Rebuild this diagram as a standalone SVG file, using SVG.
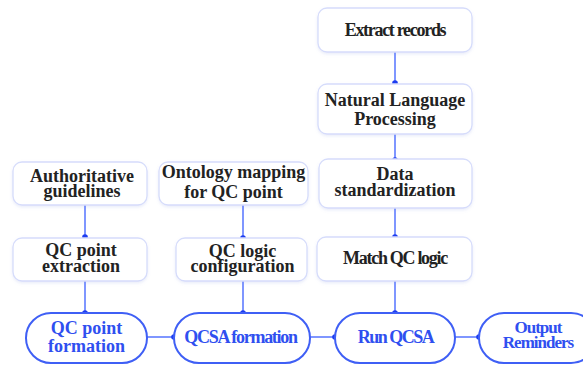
<svg xmlns="http://www.w3.org/2000/svg" width="583" height="365" viewBox="0 0 583 365">
<defs>
<style>
.box{fill:#ffffff;stroke:#d6dcfb;stroke-width:1.3;filter:url(#sh)}
.pill{fill:#ffffff;stroke:#3f5ff5;stroke-width:2}
.t{font-family:'Liberation Serif','Times New Roman',serif;font-weight:bold;font-size:18px;fill:#222222;text-anchor:middle}
.b{fill:#2f4ff0}
.c{letter-spacing:-1.3px}
.ln{stroke:#5573ff;stroke-width:1.5;fill:none}
.dot{fill:#1c3cf0}
</style>
<filter id="sh" x="-10%" y="-20%" width="120%" height="150%">
<feDropShadow dx="0" dy="1.5" stdDeviation="1.5" flood-color="#8090e0" flood-opacity="0.18"/>
</filter>
</defs>
<rect width="583" height="365" fill="#ffffff"/>

<g id="connectors">
<line class="ln" x1="85" y1="205" x2="85" y2="237"/>
<line class="ln" x1="85" y1="281" x2="85" y2="313"/>
<line class="ln" x1="243" y1="205" x2="243" y2="238"/>
<line class="ln" x1="243" y1="281" x2="243" y2="313"/>
<line class="ln" x1="395" y1="52" x2="395" y2="83"/>
<line class="ln" x1="395" y1="134" x2="395" y2="159"/>
<line class="ln" x1="395" y1="208" x2="395" y2="237"/>
<line class="ln" x1="395" y1="281" x2="395" y2="313"/>
<line class="ln" x1="147" y1="337" x2="174" y2="337"/>
<line class="ln" x1="310" y1="337" x2="335" y2="337"/>
<line class="ln" x1="455" y1="337" x2="479" y2="337"/>
<circle class="dot" cx="85" cy="237" r="2.8"/>
<circle class="dot" cx="85" cy="313" r="2.8"/>
<circle class="dot" cx="243" cy="238" r="2.8"/>
<circle class="dot" cx="243" cy="313" r="2.8"/>
<circle class="dot" cx="395" cy="83" r="2.8"/>
<circle class="dot" cx="395" cy="160" r="2.8"/>
<circle class="dot" cx="395" cy="237" r="2.8"/>
<circle class="dot" cx="395" cy="313" r="2.8"/>
<circle class="dot" cx="174" cy="337" r="2.8"/>
<circle class="dot" cx="335" cy="337" r="2.8"/>
<circle class="dot" cx="479" cy="337" r="2.8"/>
</g>

<g id="extract-records">
<rect class="box" x="318" y="8" width="154" height="44" rx="9"/>
<text class="t c" x="395" y="36">Extract records</text>
</g>
<g id="nlp">
<rect class="box" x="318" y="84" width="154" height="50" rx="9"/>
<text class="t" x="395" y="106">Natural Language</text>
<text class="t" x="395" y="125">Processing</text>
</g>
<g id="data-standardization">
<rect class="box" x="319" y="159" width="153" height="49" rx="9"/>
<text class="t" x="395" y="180">Data</text>
<text class="t" x="395" y="196">standardization</text>
</g>
<g id="match-qc-logic">
<rect class="box" x="317" y="237" width="155" height="44" rx="9"/>
<text class="t c" x="395" y="264">Match QC logic</text>
</g>

<g id="authoritative-guidelines">
<rect class="box" x="13" y="162" width="134" height="43" rx="9"/>
<text class="t" x="82" y="182">Authoritative</text>
<text class="t" x="82" y="197">guidelines</text>
</g>
<g id="qc-point-extraction">
<rect class="box" x="13" y="238" width="134" height="43" rx="9"/>
<text class="t" x="81" y="256">QC point</text>
<text class="t" x="81" y="272">extraction</text>
</g>
<g id="ontology-mapping">
<rect class="box" x="159" y="162" width="149" height="43" rx="9"/>
<text class="t" x="233.5" y="178">Ontology mapping</text>
<text class="t" x="233.5" y="198">for QC point</text>
</g>
<g id="qc-logic-configuration">
<rect class="box" x="176" y="238" width="131" height="43" rx="9"/>
<text class="t" x="242.5" y="257">QC logic</text>
<text class="t" x="242.5" y="272">configuration</text>
</g>

<g id="qc-point-formation">
<rect class="pill" x="26" y="313" width="121" height="50" rx="25"/>
<text class="t b" x="86.5" y="334">QC point</text>
<text class="t b" x="86.5" y="352">formation</text>
</g>
<g id="qcsa-formation">
<rect class="pill" x="174" y="313" width="136" height="50" rx="25"/>
<text class="t b c" x="240.5" y="343">QCSA formation</text>
</g>
<g id="run-qcsa">
<rect class="pill" x="335" y="313" width="120" height="50" rx="25"/>
<text class="t b" x="395.5" y="343" style="letter-spacing:-1.5px">Run QCSA</text>
</g>
<g id="output-reminders">
<rect class="pill" x="479" y="313" width="117" height="50" rx="25"/>
<text class="t b" x="538" y="333" style="font-size:17px;letter-spacing:-1px">Output</text>
<text class="t b" x="538" y="348" style="font-size:17px;letter-spacing:-1px">Reminders</text>
</g>
</svg>
